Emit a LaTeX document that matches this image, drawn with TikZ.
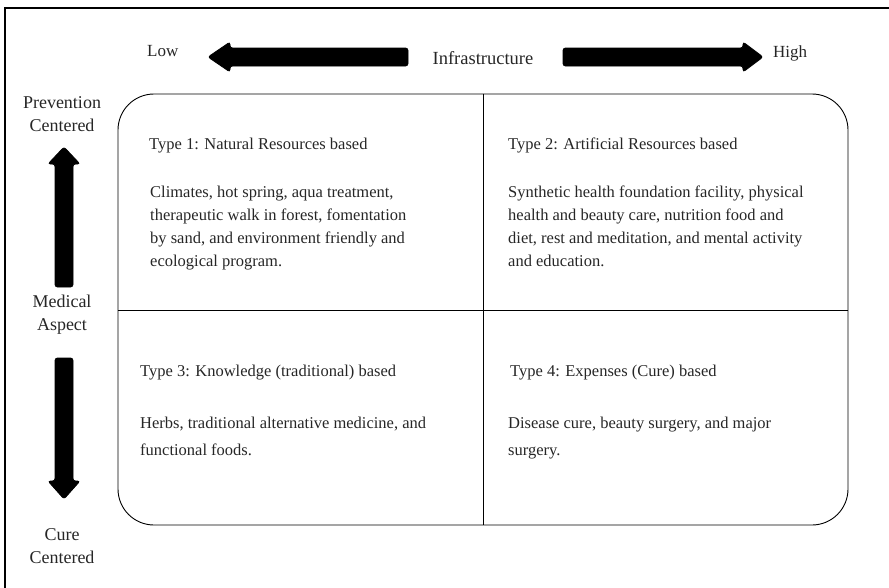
\documentclass[tikz,border=0pt]{standalone}
\usepackage{fontspec}
\setmainfont{Liberation Serif}
\newcommand\mylines[2]{\begin{tabular}[t]{@{}#1@{}}#2\end{tabular}}
\begin{document}
\begin{tikzpicture}[x=1pt,y=-1pt,
  blockarrow/.style={fill=black, draw=black, line width=0.8pt, rounded corners=2.5pt},
  sidelbl/.style={font=\fontsize{18}{23.5}\selectfont, inner sep=0, anchor=base, text=black!85},
  toplbl/.style={font=\fontsize{17}{20}\selectfont, inner sep=0, anchor=base west, text=black!85},
  celltxt/.style={font=\fontsize{16.5}{23}\selectfont, inner sep=0, anchor=base west, text=black!85},
  celltxtb/.style={font=\fontsize{16.5}{27}\selectfont, inner sep=0, anchor=base west, text=black!85}]
\useasboundingbox (0,0) rectangle (889,587);
% outer frame (cut off at right and bottom)
\draw[line width=2pt] (5,600) -- (5,8) -- (900,8);
% quadrant box
\node[draw, line width=0.9pt, rounded corners=36pt, minimum width=730pt, minimum height=431pt, inner sep=0] (grid) at (483,309.5) {};
\coordinate (midL) at (118,310);
\coordinate (midR) at (848,310);
\draw[line width=0.9pt] (grid.north) -- (grid.south);
\draw[line width=0.9pt] (midL) -- (midR);
% horizontal block arrows
\fill[blockarrow] (208,57) -- (230,42) -- (230,48) -- (408,48) -- (408,66) -- (230,66) -- (230,72) -- cycle;
\fill[blockarrow] (763,57) -- (743,42) -- (743,48) -- (563,48) -- (563,66) -- (743,66) -- (743,72) -- cycle;
% vertical block arrows
\fill[blockarrow] (64,147) -- (80,164) -- (73,164) -- (73,287) -- (55,287) -- (55,164) -- (48,164) -- cycle;
\fill[blockarrow] (64,499) -- (80,481) -- (73,481) -- (73,358) -- (55,358) -- (55,481) -- (48,481) -- cycle;
% top labels
\node[toplbl] (low) at (147,56) {Low};
\node[toplbl, anchor=base, font=\fontsize{18.5}{20}\selectfont] (infra) at (483,64) {Infrastructure};
\node[toplbl] (high) at (773,57) {High};
% side labels
\node[sidelbl] (prev) at (62,108) {\mylines{c}{Prevention\\Centered}};
\node[sidelbl] (med) at (62,307) {\mylines{c}{Medical\\Aspect}};
\node[sidelbl] (cure) at (62,540) {\mylines{c}{Cure\\Centered}};
% cells
\node[celltxt] (t1) at (149,149) {Type 1: Natural Resources based};
\node[celltxt] (b1) at (150,197) {\mylines{l}{Climates, hot spring, aqua treatment,\\therapeutic walk in forest, fomentation\\by sand, and environment friendly and\\ecological program.}};
\node[celltxt] (t2) at (508,149) {Type 2: Artificial Resources based};
\node[celltxt] (b2) at (508,197) {\mylines{l}{Synthetic health foundation facility, physical\\health and beauty care, nutrition food and\\diet, rest and meditation, and mental activity\\and education.}};
\node[celltxt] (t3) at (140,376) {Type 3: Knowledge (traditional) based};
\node[celltxtb] (b3) at (140,428) {\mylines{l}{Herbs, traditional alternative medicine, and\\functional foods.}};
\node[celltxt] (t4) at (510,376) {Type 4: Expenses (Cure) based};
\node[celltxtb] (b4) at (508,428) {\mylines{l}{Disease cure, beauty surgery, and major\\surgery.}};
\end{tikzpicture}
\end{document}
